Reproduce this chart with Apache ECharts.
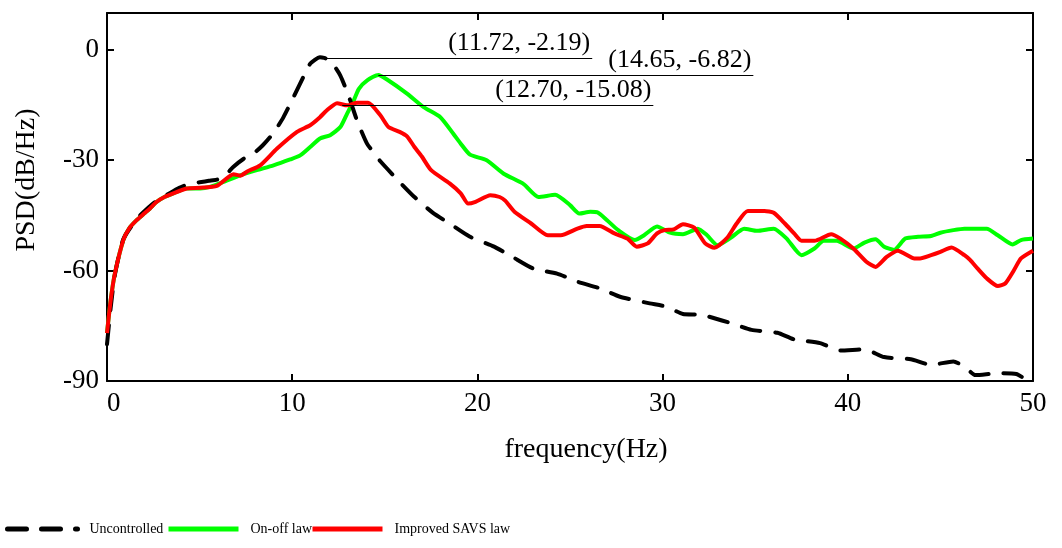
<!DOCTYPE html>
<html>
<head>
<meta charset="utf-8">
<script src="https://cdn.jsdelivr.net/npm/echarts@6/dist/echarts.min.js"></script>
<style>
html, body { margin: 0; padding: 0; background: #fff; }
#chart { width: 1062px; height: 548px; }
</style>
</head>
<body>
<div id="chart"></div>
<script>
// values
let freqU = [0, 0.2, 0.43, 0.88, 1.6, 2.32, 2.69, 3.3, 3.9, 4.5, 5.0, 5.5, 5.93, 6.4, 6.83, 7.38, 7.91, 8.4, 8.81, 9.2, 9.53, 10.07, 10.6, 10.97, 11.5, 11.72, 12.05, 12.6, 13.1, 13.5, 14.04, 14.5, 14.76, 15.7, 16.6, 17.6, 18.5, 19.6, 20.9, 21.9, 23.0, 24.3, 25.4, 26.6, 27.7, 29.3, 30.2, 31.1, 32.1, 33.7, 34.8, 36.2, 37.1, 38.5, 39.6, 40.9, 41.96, 43.4, 44.5, 45.7, 46.3, 46.9, 48.1, 49.1, 49.6, 50]
let psdU = [-80, -70, -61, -51.5, -46, -42.5, -41, -39.2, -37.5, -36.3, -36, -35.6, -35.3, -34, -31.8, -29.6, -28.2, -26, -23.7, -21, -18.3, -12.9, -7.4, -3.8, -2.0, -2.19, -2.9, -7.0, -13.3, -19.2, -25.5, -28.5, -30.3, -35.4, -40, -44.3, -47.2, -50.8, -53.5, -56.3, -59.4, -60.8, -63, -64.8, -67.1, -68.9, -69.8, -71.8, -72, -74.3, -76.1, -76.9, -78.7, -79.7, -81.7, -81.4, -83.5, -84.1, -85.6, -84.7, -86.1, -88.4, -87.9, -88.1, -89.5, -90]

let freqG = [0, 0.2, 0.43, 0.88, 1.2, 1.6, 2.0, 2.32, 2.69, 3.1, 3.58, 4.3, 5.03, 5.6, 6.29, 7.19, 8.09, 8.99, 9.89, 10.43, 10.97, 11.5, 12.05, 12.6, 12.96, 13.32, 13.6, 14.05, 14.65, 15.1, 16.2, 17.1, 18.0, 18.7, 19.1, 19.6, 20.5, 21.4, 22.5, 23.3, 24.2, 25.0, 25.5, 26.1, 26.5, 27.0, 27.6, 28.5, 29.0, 29.7, 30.4, 31.1, 31.9, 32.4, 32.96, 33.7, 34.4, 35.1, 36.0, 36.7, 37.5, 38.2, 38.7, 39.4, 40.3, 40.9, 41.5, 41.96, 42.5, 43.1, 43.8, 44.5, 45.0, 45.7, 46.3, 47.5, 48.1, 48.9, 49.35, 50]
let psdG = [-77, -68, -60.7, -51.7, -48.5, -46.3, -44.5, -43.1, -41.3, -40, -39, -37.7, -37.7, -37.2, -35.9, -34.1, -32.7, -31.4, -29.8, -28.7, -26.4, -24.1, -23.2, -21.0, -17.4, -13.8, -10.6, -8.3, -6.82, -8.0, -11.9, -15.6, -18.3, -22.8, -25.5, -28.5, -30, -33.6, -36.5, -40, -39.4, -42.2, -44.5, -44, -44.2, -46.3, -49, -51.7, -50.4, -48, -49.7, -50.1, -48.6, -50.4, -53.1, -51, -48.6, -49.2, -48.6, -51.3, -55.8, -54, -51.9, -51.9, -54, -52.4, -51.5, -53.5, -54.4, -51.3, -50.8, -50.6, -49.7, -49, -48.6, -48.6, -50.4, -52.9, -51.7, -51.3]

let freqR = [0, 0.2, 0.43, 0.88, 1.2, 1.6, 2.0, 2.32, 2.69, 3.1, 3.58, 4.3, 5.03, 5.93, 6.83, 7.19, 7.6, 8.27, 9.17, 10.26, 10.97, 11.5, 11.86, 12.42, 12.96, 13.5, 14.1, 14.76, 15.2, 15.8, 16.2, 16.6, 17.0, 17.5, 18.5, 19.1, 19.5, 19.9, 20.7, 21.2, 21.5, 22.0, 22.9, 23.8, 24.5, 25.4, 25.9, 26.6, 27.4, 28.1, 28.6, 29.2, 29.7, 30.1, 30.6, 31.1, 31.7, 32.3, 32.8, 33.5, 34.0, 34.6, 35.5, 36.0, 36.6, 37.1, 37.5, 38.2, 39.1, 39.6, 40.3, 41.0, 41.5, 42.1, 42.7, 43.6, 43.9, 44.5, 45.0, 45.6, 46.3, 46.6, 47.0, 47.5, 48.1, 48.5, 48.97, 49.35, 50]
let psdR = [-77, -68, -60.7, -51.7, -48.5, -46.3, -44.5, -43.1, -41.3, -40, -39, -37.7, -37.5, -37.0, -33.8, -34.2, -33, -31.4, -26.9, -22.3, -20.5, -18.3, -16.5, -14.5, -15.1, -14.4, -14.4, -17.8, -21, -22.3, -23.5, -26.4, -29, -32.7, -36.3, -39, -41.8, -41.3, -39.5, -40, -41, -44, -47.2, -50.4, -50.4, -48.6, -47.9, -47.9, -49.9, -51.3, -53.5, -52.6, -49.9, -49, -48.8, -47.4, -48.3, -52.6, -53.8, -51, -47.2, -43.8, -43.8, -44.3, -47.2, -49.9, -51.9, -51.9, -50.1, -51.3, -54, -57.6, -59, -56.3, -54.6, -56.7, -56.7, -55.8, -54.9, -53.7, -55.8, -57.1, -59.4, -62.1, -64.2, -63.5, -59.9, -56.7, -54.6]

let seriesNames = ["Uncontrolled", "On-off law", "Improved SAVS law"]
let seriesColors = ["#000000", "#00ff00", "#ff0000"]

// peak annotations: [peak freq, peak psd, end freq of the leader line]
let peakU = [11.72, -2.19, 26.2]
let peakG = [14.65, -6.82, 34.9]
let peakR = [12.70, -15.08, 29.5]

const FONT = "Liberation Serif, Times New Roman, serif"

function pairs(xs, ys){
    return xs.map((x, i) => [x, ys[i]])
}

function peakLine(p){
    return {
        symbol: "none",
        silent: true,
        lineStyle: { color: "#000", width: 1, type: "solid" },
        label: {
            position: "insideEndTop",
            distance: 2,
            formatter: "(" + p[0].toFixed(2) + ", " + p[1].toFixed(2) + ")",
            color: "#000",
            fontFamily: FONT,
            fontSize: 26
        },
        data: [[{ coord: [p[0], p[1]] }, { coord: [p[2], p[1]] }]]
    }
}

// one legend per item so each sits where the reference puts it
function legendAt(name, left){
    return {
        data: [name],
        left: left,
        top: 522,
        padding: 0,
        itemWidth: 70,
        itemHeight: 12,
        itemStyle: { opacity: 0 },
        lineStyle: { width: 5 },
        textStyle: { fontFamily: FONT, fontSize: 14, color: "#000", padding: [0, 0, 0, 7] }
    }
}

let tickStyle = { inside: true, length: 7, lineStyle: { color: "#000", width: 2 } }
let lineStyleAxis = { show: true, onZero: false, lineStyle: { color: "#000", width: 2 } }

let chart = echarts.init(document.getElementById("chart"))

chart.setOption({
    animation: false,
    backgroundColor: "#fff",
    grid: { left: 107, right: 29, top: 13, bottom: 167 },
    legend: [
        legendAt(seriesNames[0], 5),
        legendAt(seriesNames[1], 166),
        legendAt(seriesNames[2], 310)
    ],
    xAxis: [{
        type: "value",
        min: 0, max: 50, interval: 10,
        axisLine: lineStyleAxis,
        axisTick: tickStyle,
        splitLine: { show: false },
        axisLabel: { color: "#000", fontFamily: FONT, fontSize: 27, margin: 9, alignMinLabel: "left" },
        name: "frequency(Hz)",
        nameLocation: "middle",
        nameGap: 55,
        nameTextStyle: { color: "#000", fontFamily: FONT, fontSize: 28, padding: [0, 0, 0, 32] }
    }, {
        type: "value",
        position: "top",
        min: 0, max: 50, interval: 10,
        axisLine: lineStyleAxis,
        axisTick: tickStyle,
        axisLabel: { show: false },
        splitLine: { show: false }
    }],
    yAxis: [{
        type: "value",
        min: -90, max: 10, interval: 30,
        axisLine: lineStyleAxis,
        axisTick: tickStyle,
        splitLine: { show: false },
        axisLabel: { color: "#000", fontFamily: FONT, fontSize: 27, margin: 8, showMaxLabel: false },
        name: "PSD(dB/Hz)",
        nameLocation: "middle",
        nameGap: 66,
        nameRotate: 90,
        nameTextStyle: { color: "#000", fontFamily: FONT, fontSize: 28, padding: [0, 0, 0, 34] }
    }, {
        type: "value",
        position: "right",
        min: -90, max: 10, interval: 30,
        axisLine: lineStyleAxis,
        axisTick: tickStyle,
        axisLabel: { show: false },
        splitLine: { show: false }
    }],
    series: [{
        name: seriesNames[0],
        type: "line",
        data: pairs(freqU, psdU),
        showSymbol: false,
        symbol: "none",
        smooth: 0.2,
        z: 3,
        lineStyle: { color: seriesColors[0], width: 4, type: [19, 15], cap: "round" },
        itemStyle: { color: seriesColors[0] },
        markLine: peakLine(peakU)
    }, {
        name: seriesNames[1],
        type: "line",
        data: pairs(freqG, psdG),
        showSymbol: false,
        symbol: "none",
        smooth: 0.2,
        z: 2,
        lineStyle: { color: seriesColors[1], width: 4 },
        itemStyle: { color: seriesColors[1] },
        markLine: peakLine(peakG)
    }, {
        name: seriesNames[2],
        type: "line",
        data: pairs(freqR, psdR),
        showSymbol: false,
        symbol: "none",
        smooth: 0.2,
        z: 4,
        lineStyle: { color: seriesColors[2], width: 4 },
        itemStyle: { color: seriesColors[2] },
        markLine: peakLine(peakR)
    }]
})
</script>
</body>
</html>
